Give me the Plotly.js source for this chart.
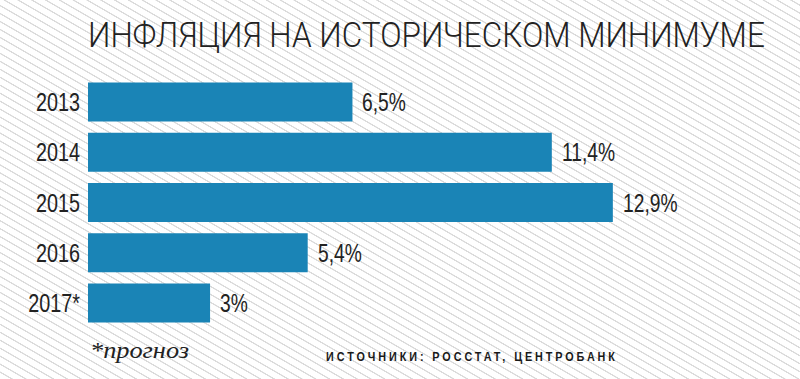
<!DOCTYPE html>
<html><head><meta charset="utf-8">
<script src="https://cdn.plot.ly/plotly-3.0.1.min.js"></script>
<style>
html,body{margin:0;padding:0;width:800px;height:379px;overflow:hidden;
background:#fff repeating-linear-gradient(30deg,#fff 0px,#fff 5.2px,#dadada 5.6px,#dadada 6.5px,#fff 6.9px);}
#chart{width:800px;height:379px;}
</style></head>
<body><div id="chart"></div>
<script>
const years = ['2013','2014','2015','2016','2017*'];
const inflation = [6.5, 11.4, 12.9, 5.4, 3];
const valueLabels = ['6,5%','11,4%','12,9%','5,4%','3%'];
const titleText = 'ИНФЛЯЦИЯ НА ИСТОРИЧЕСКОМ МИНИМУМЕ';
const footnote = '*прогноз';
const sources = 'ИСТОЧНИКИ: РОССТАТ, ЦЕНТРОБАНК';

const sans = '"Liberation Sans", Arial, sans-serif';
const annotations = years.map((y,i)=>({
  x: inflation[i], y: i, xref:'x', yref:'y', text: valueLabels[i],
  showarrow:false, xanchor:'left', yanchor:'middle', xshift:8,
  font:{family:sans, size:26, color:'#222'}
}));
annotations.push({xref:'paper', yref:'paper', x:0, y:-0.088, xanchor:'left', yanchor:'middle',
  text:footnote, showarrow:false, font:{family:'"Liberation Serif", serif', size:24, style:'italic', color:'#222'}});
annotations.push({xref:'paper', yref:'paper', x:0.3315, y:-0.1116, xanchor:'left', yanchor:'middle',
  text:sources, showarrow:false, font:{family:sans, size:13, weight:700, color:'#1a1a1a'}});

Plotly.newPlot('chart', [{
  type:'bar', orientation:'h', x: inflation, y: years,
  marker:{color:'#1a84b6', line:{width:0}}, hoverinfo:'none'
}], {
  width:800, height:379,
  margin:{l:88, r:0, t:77, b:51},
  paper_bgcolor:'rgba(0,0,0,0)', plot_bgcolor:'rgba(0,0,0,0)',
  bargap:0.224,
  title:{text:titleText, xref:'container', yref:'container', x:88/800, xanchor:'left',
    y:1-34/379, yanchor:'middle', font:{family:'Roboto, sans-serif', size:36, color:'#222', weight:300}},
  xaxis:{range:[0,17.5], visible:false},
  yaxis:{type:'category', categoryorder:'array', categoryarray:years, range:[4.5,-0.5],
    showgrid:false, zeroline:false, showline:false,
    ticks:'', ticklabelstandoff:7, tickfont:{family:sans, size:26, color:'#222'}},
  annotations: annotations,
  showlegend:false
}, {staticPlot:true}).then(()=>{
  function squeeze(el, k, anchor, dx){
    const b = el.getBBox();
    const ax = anchor==='end' ? b.x+b.width : b.x;
    const old = el.getAttribute('transform')||'';
    el.setAttribute('transform', old+' translate('+(dx||0)+',0) translate('+ax+',0) scale('+k+',1) translate('+(-ax)+',0)');
  }
  const t = document.querySelector('.gtitle');
  if(t){ squeeze(t, 677/t.getBBox().width, 'start'); }
  document.querySelectorAll('.ytick text').forEach(el=>squeeze(el,0.76,'end'));
  document.querySelectorAll('.annotation-text').forEach(el=>{
    const s = el.textContent;
    if(valueLabels.indexOf(s)>=0) squeeze(el,0.74,'start');
    else if(s===sources){
      const b0 = el.getBBox();
      el.setAttribute('letter-spacing','3.5px');
      const b1 = el.getBBox();
      squeeze(el, 289/(b1.width-3.5), 'start', b0.x-b1.x);
    }
    else if(s===footnote){ squeeze(el, 99/el.getBBox().width, 'start'); }
  });
});
</script></body></html>
